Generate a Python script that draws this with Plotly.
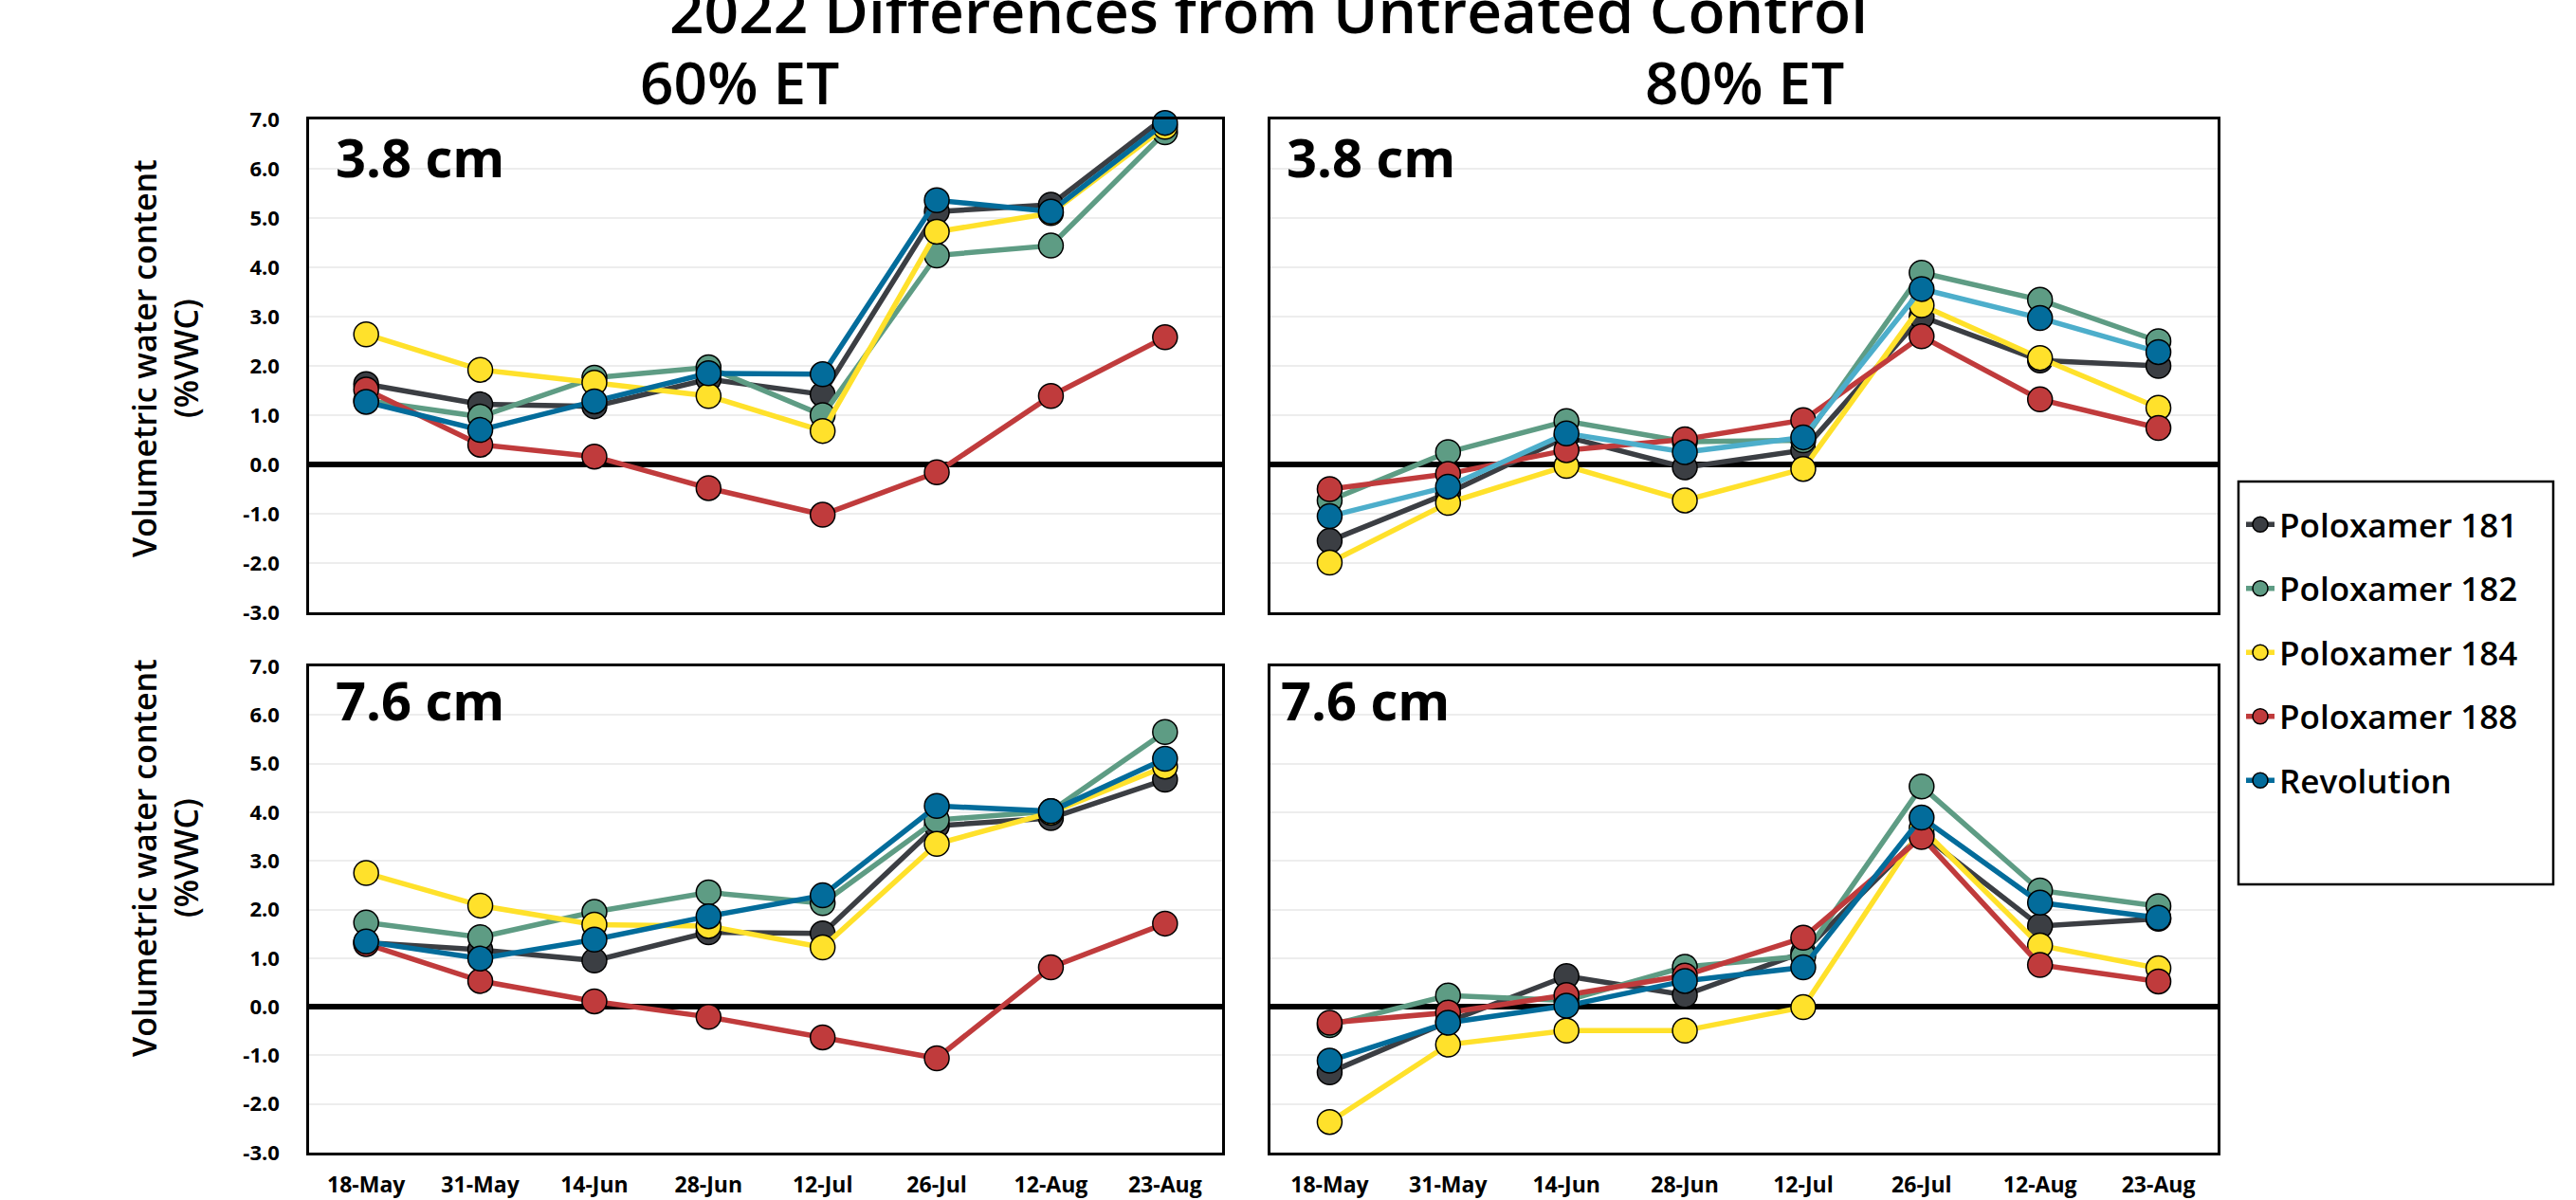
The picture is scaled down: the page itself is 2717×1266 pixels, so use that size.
import plotly.graph_objects as go

# ---------------- data ----------------
dates = ["18-May", "31-May", "14-Jun", "28-Jun", "12-Jul", "26-Jul", "12-Aug", "23-Aug"]
series_names = ["Poloxamer 181", "Poloxamer 182", "Poloxamer 184", "Poloxamer 188", "Revolution"]
y_tick_vals = [-3, -2, -1, 0, 1, 2, 3, 4, 5, 6, 7]
y_tick_labels = ["-3.0", "-2.0", "-1.0", "0.0", "1.0", "2.0", "3.0", "4.0", "5.0", "6.0", "7.0"]
panel_titles = ["60% ET", "80% ET"]
depth_labels = ["3.8 cm", "7.6 cm"]

# 60% ET, 3.8 cm
et60_d38_p181 = [1.63, 1.22, 1.18, 1.73, 1.42, 5.13, 5.27, 7.05]
et60_d38_p182 = [1.30, 0.97, 1.76, 1.97, 1.00, 4.24, 4.44, 6.74]
et60_d38_p184 = [2.64, 1.92, 1.66, 1.39, 0.68, 4.72, 5.10, 6.85]
et60_d38_p188 = [1.52, 0.40, 0.16, -0.48, -1.02, -0.16, 1.39, 2.58]
et60_d38_rev = [1.27, 0.70, 1.28, 1.85, 1.83, 5.36, 5.13, 6.93]

# 80% ET, 3.8 cm
et80_d38_p181 = [-1.55, -0.58, 0.56, -0.06, 0.29, 3.00, 2.11, 2.00]
et80_d38_p182 = [-0.73, 0.25, 0.88, 0.46, 0.49, 3.89, 3.34, 2.50]
et80_d38_p184 = [-1.99, -0.78, -0.03, -0.73, -0.09, 3.23, 2.16, 1.15]
et80_d38_p188 = [-0.50, -0.19, 0.29, 0.51, 0.90, 2.60, 1.32, 0.74]
et80_d38_rev = [-1.05, -0.45, 0.63, 0.25, 0.55, 3.56, 2.97, 2.28]

# 60% ET, 7.6 cm
et60_d76_p181 = [1.32, 1.17, 0.95, 1.53, 1.51, 3.72, 3.88, 4.67]
et60_d76_p182 = [1.73, 1.43, 1.95, 2.35, 2.13, 3.84, 4.02, 5.65]
et60_d76_p184 = [2.75, 2.08, 1.69, 1.66, 1.22, 3.35, 3.99, 4.94]
et60_d76_p188 = [1.29, 0.53, 0.11, -0.21, -0.63, -1.06, 0.81, 1.71]
et60_d76_rev = [1.34, 0.99, 1.38, 1.86, 2.29, 4.13, 4.02, 5.10]

# 80% ET, 7.6 cm
et80_d76_p181 = [-1.35, -0.31, 0.63, 0.24, 1.12, 3.55, 1.66, 1.81]
et80_d76_p182 = [-0.38, 0.23, 0.13, 0.82, 1.04, 4.53, 2.39, 2.07]
et80_d76_p184 = [-2.37, -0.78, -0.49, -0.49, -0.01, 3.67, 1.26, 0.79]
et80_d76_p188 = [-0.33, -0.12, 0.24, 0.64, 1.42, 3.49, 0.86, 0.52]
et80_d76_rev = [-1.11, -0.33, 0.02, 0.53, 0.81, 3.89, 2.14, 1.83]

# ---------------- styles ----------------
W, H = 2717, 1266
marker_colors = ["#3B3E43", "#5E9C84", "#FFE12B", "#C03B3C", "#036C9B"]
line_colors_default = ["#3B3E43", "#5E9C84", "#FFE12B", "#C03B3C", "#036C9B"]
line_colors_tr = ["#3B3E43", "#5E9C84", "#FFE12B", "#C03B3C", "#4DAECB"]

FONT = "Open Sans"


def px_x(p):
    return p / W


def px_y(p):
    return 1 - p / H


panels = [
    ("", [et60_d38_p181, et60_d38_p182, et60_d38_p184, et60_d38_p188, et60_d38_rev],
     line_colors_default, (326, 1289), (126, 646)),
    ("2", [et80_d38_p181, et80_d38_p182, et80_d38_p184, et80_d38_p188, et80_d38_rev],
     line_colors_tr, (1340, 2339), (126, 646)),
    ("3", [et60_d76_p181, et60_d76_p182, et60_d76_p184, et60_d76_p188, et60_d76_rev],
     line_colors_default, (326, 1289), (703, 1216)),
    ("4", [et80_d76_p181, et80_d76_p182, et80_d76_p184, et80_d76_p188, et80_d76_rev],
     line_colors_default, (1340, 2339), (703, 1216)),
]

fig = go.Figure()

for pi, (suf, series, lcols, xd, yd) in enumerate(panels):
    for si, (name, vals) in enumerate(zip(series_names, series)):
        fig.add_trace(go.Scatter(
            x=dates, y=vals, name=name,
            mode="lines+markers",
            xaxis="x" + suf, yaxis="y" + suf,
            line=dict(color=lcols[si], width=5.5),
            marker=dict(size=26, color=marker_colors[si],
                        line=dict(color="black", width=1.5)),
            legendgroup=name, showlegend=(pi == 0),
            cliponaxis=False,
        ))

    is_left = pi in (0, 2)
    is_bottom = pi in (2, 3)
    xa = dict(
        domain=[px_x(xd[0]), px_x(xd[1])],
        type="category", categoryorder="array", categoryarray=dates,
        range=[-0.5, len(dates) - 0.5],
        showgrid=False, zeroline=False, automargin=False,
        showline=True, mirror=True, linecolor="black", linewidth=2.5,
        ticks="", showticklabels=is_bottom,
        tickfont=dict(family=FONT, size=23, color="black", weight=700),
        ticklabelstandoff=12,
        anchor="y" + suf,
    )
    ya = dict(
        domain=[px_y(yd[1]), px_y(yd[0])],
        range=[-3, 7], automargin=False,
        tickmode="array", tickvals=y_tick_vals, ticktext=y_tick_labels,
        showgrid=True, gridcolor="#EDEDED", gridwidth=2,
        zeroline=True, zerolinecolor="black", zerolinewidth=6,
        showline=True, mirror=True, linecolor="black", linewidth=2.5,
        ticks="", showticklabels=is_left,
        tickfont=dict(family=FONT, size=22, color="black", weight=700),
        ticklabelstandoff=24,
        anchor="x" + suf,
    )
    fig.layout["xaxis" + suf] = xa
    fig.layout["yaxis" + suf] = ya

annotations = []
annotations.append(dict(
    text="2022 Differences from Untreated Control", x=px_x(1338), y=px_y(10),
    xref="paper", yref="paper", xanchor="center", yanchor="middle", showarrow=False,
    font=dict(family=FONT, size=64, color="black", weight=600)))
for t, cx in zip(panel_titles, [780, 1840]):
    annotations.append(dict(
        text=t, x=px_x(cx), y=px_y(86), xref="paper", yref="paper",
        xanchor="center", yanchor="middle", showarrow=False,
        font=dict(family=FONT, size=62, color="black", weight=600)))
for lab, (lx, ly) in zip([depth_labels[0], depth_labels[0], depth_labels[1], depth_labels[1]],
                         [(352, 165), (1355, 165), (352, 738), (1349, 738)]):
    annotations.append(dict(
        text=lab, x=px_x(lx), y=px_y(ly), xref="paper", yref="paper",
        xanchor="left", yanchor="middle", showarrow=False,
        font=dict(family=FONT, size=56, color="black", weight=700)))
for cy in [378, 905]:
    annotations.append(dict(
        text="Volumetric water content<br>(%VWC)", x=px_x(174), y=px_y(cy),
        xref="paper", yref="paper", xanchor="center", yanchor="middle",
        textangle=-90, showarrow=False,
        font=dict(family=FONT, size=34, color="black", weight=600)))

fig.update_layout(
    template="none",
    width=W, height=H,
    margin=dict(l=0, r=0, t=0, b=0, pad=0, autoexpand=False),
    paper_bgcolor="white", plot_bgcolor="white",
    annotations=annotations,
    shapes=[dict(type="rect", xref="paper", yref="paper",
                 x0=px_x(2361), x1=px_x(2693), y0=px_y(933), y1=px_y(508),
                 line=dict(color="black", width=2.5), fillcolor="rgba(0,0,0,0)")],
    legend=dict(
        x=px_x(2364), y=px_y(524), xanchor="left", yanchor="top",
        bgcolor="rgba(0,0,0,0)", borderwidth=0,
        font=dict(family=FONT, size=35, color="black", weight=600),
        tracegroupgap=19, itemsizing="trace",
    ),
    showlegend=True,
)

fig.write_html("out.html", config={"displayModeBar": False},
               post_script="document.body.style.margin='0';")
